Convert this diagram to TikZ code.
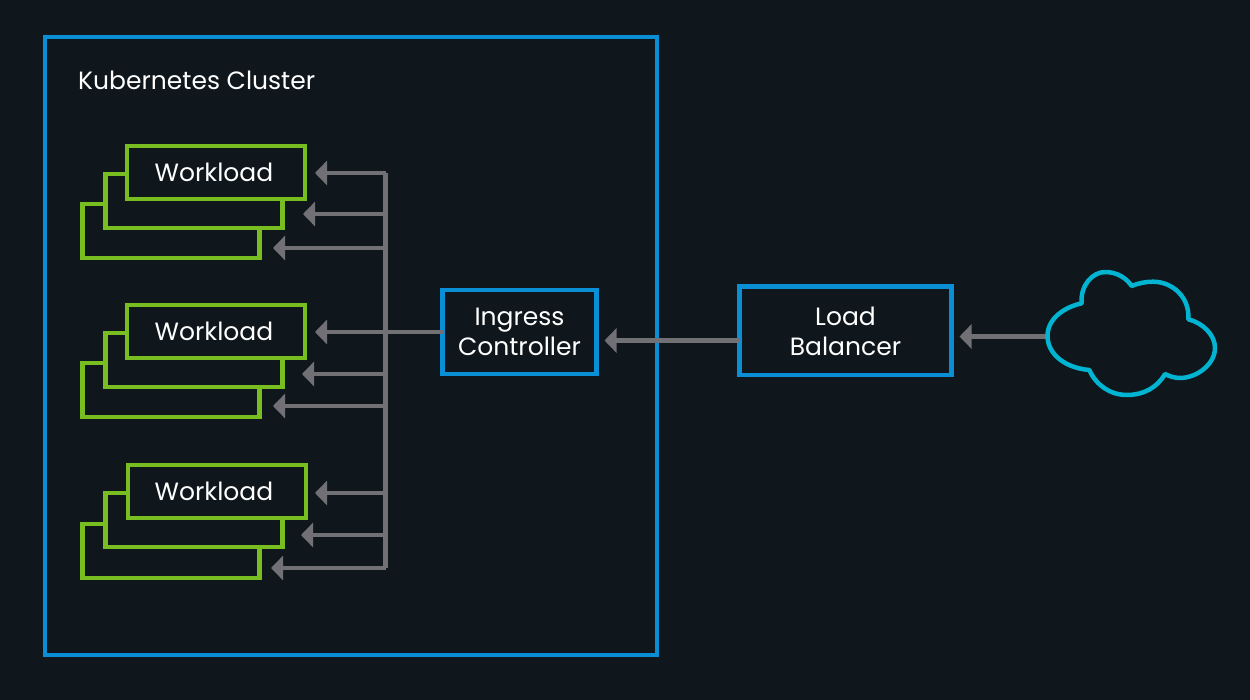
\documentclass[tikz,border=0pt]{standalone}
\usepackage{fontspec}
\setmainfont{Poppins}
\usetikzlibrary{arrows.meta}
\definecolor{bgc}{HTML}{0F171C}
\definecolor{bluec}{HTML}{0A8FD6}
\definecolor{greenc}{HTML}{78BE20}
\definecolor{cyanc}{HTML}{00B4D2}
\definecolor{grayc}{HTML}{707075}
\tikzset{
  blockbase/.style={rectangle,inner sep=0pt,outer sep=0pt,line width=4.5pt,fill=bgc,text=white,align=center,font=\fontsize{25}{30}\selectfont},
  wbox/.style={blockbase,draw=greenc},
  bbox/.style={blockbase,draw=bluec},
  flow/.style={draw=grayc,line width=4.5pt,-{Triangle[length=12pt,width=24pt]}},
  busline/.style={draw=grayc,line width=4.5pt},
  label/.style={text=white,font=\fontsize{25}{30}\selectfont,inner sep=0pt}
}
\begin{document}
\begin{tikzpicture}[x=1pt,y=-1pt]
\useasboundingbox (0,0) rectangle (1250,700);
\fill[bgc] (0,0) rectangle (1250,700);
% cluster
\node[bbox,fill=none,minimum width=612pt,minimum height=618pt] (cluster) at (351,346) {};
\node[label,anchor=west] (title) at (78,80) {Kubernetes Cluster};
% workloads, back to front
\node[wbox,minimum width=177pt,minimum height=54pt] (w1c) at (171,231) {};
\node[wbox,minimum width=177pt,minimum height=54pt] (w1b) at (194,201) {};
\node[wbox,minimum width=178pt,minimum height=53pt] (w1a) at (216,172.5) {Workload\hspace{4pt}};
\node[wbox,minimum width=177pt,minimum height=54pt] (w2c) at (171,390) {};
\node[wbox,minimum width=177pt,minimum height=54pt] (w2b) at (194,360) {};
\node[wbox,minimum width=178pt,minimum height=53pt] (w2a) at (216,331.5) {Workload\hspace{4pt}};
\node[wbox,minimum width=177pt,minimum height=54pt] (w3c) at (171,551) {};
\node[wbox,minimum width=177pt,minimum height=54pt] (w3b) at (194,520) {};
\node[wbox,minimum width=178pt,minimum height=53pt] (w3a) at (217,491.5) {Workload\hspace{6pt}};
% service boxes
\node[bbox,minimum width=154pt,minimum height=84pt] (ing) at (519.5,332) {Ingress\\Controller};
\node[bbox,minimum width=212pt,minimum height=88.5pt] (lb) at (845.5,331) {Load\\Balancer};
% bus coordinates
\coordinate (bus1) at (385.5,173);
\coordinate (bus2) at (385.5,214);
\coordinate (bus3) at (385.5,248);
\coordinate (bus4) at (385.5,332);
\coordinate (bus5) at (385.5,374);
\coordinate (bus6) at (385.5,406);
\coordinate (bus7) at (385.5,493);
\coordinate (bus8) at (385.5,535);
\coordinate (bus9) at (385.5,568);
\coordinate (cloudw) at (1046,336.5);
\coordinate (lbin) at (1046,340.5);
% connectors
\draw[busline,line cap=square] (bus1) -- (bus9);
\draw[flow,shorten >=10pt] (bus1) -- (w1a.east |- bus1);
\draw[flow,shorten >=20.5pt] (bus2) -- (w1b.east |- bus2);
\draw[flow,shorten >=13.5pt] (bus3) -- (w1c.east |- bus3);
\draw[flow,shorten >=10pt] (ing.west |- bus4) -- (w2a.east |- bus4);
\draw[flow,shorten >=19.5pt] (bus5) -- (w2b.east |- bus5);
\draw[flow,shorten >=13.5pt] (bus6) -- (w2c.east |- bus6);
\draw[flow,shorten >=9pt] (bus7) -- (w3a.east |- bus7);
\draw[flow,shorten >=18.5pt] (bus8) -- (w3b.east |- bus8);
\draw[flow,shorten >=11.5pt] (bus9) -- (w3c.east |- bus9);
\draw[flow,shorten >=8pt] (lb.west |- lbin) -- (ing.east |- lbin);
\draw[flow,shorten >=8pt] (cloudw) -- (lb.east |- cloudw);
% cloud
\draw[cyanc,line width=4.5pt,fill=bgc,line join=round]
  (1047.5,336) .. controls (1047.5,318) and (1065,307) .. (1081.7,303.3)
  .. controls (1080,285) and (1093,272) .. (1105,272)
  .. controls (1118,272) and (1127,279) .. (1131.7,286)
  .. controls (1139,283) and (1146,281.7) .. (1153.3,281.7)
  .. controls (1172,281.7) and (1190,297) .. (1188.3,319.3)
  .. controls (1203,323) and (1215,335) .. (1215,348)
  .. controls (1215,364) and (1197,378) .. (1180,378)
  .. controls (1174,378) and (1169,376) .. (1165,374)
  .. controls (1157,388) and (1143,395) .. (1127,395)
  .. controls (1110,395) and (1096,385) .. (1089.3,370)
  .. controls (1065,368) and (1047.5,354) .. (1047.5,336) -- cycle;
\end{tikzpicture}
\end{document}
